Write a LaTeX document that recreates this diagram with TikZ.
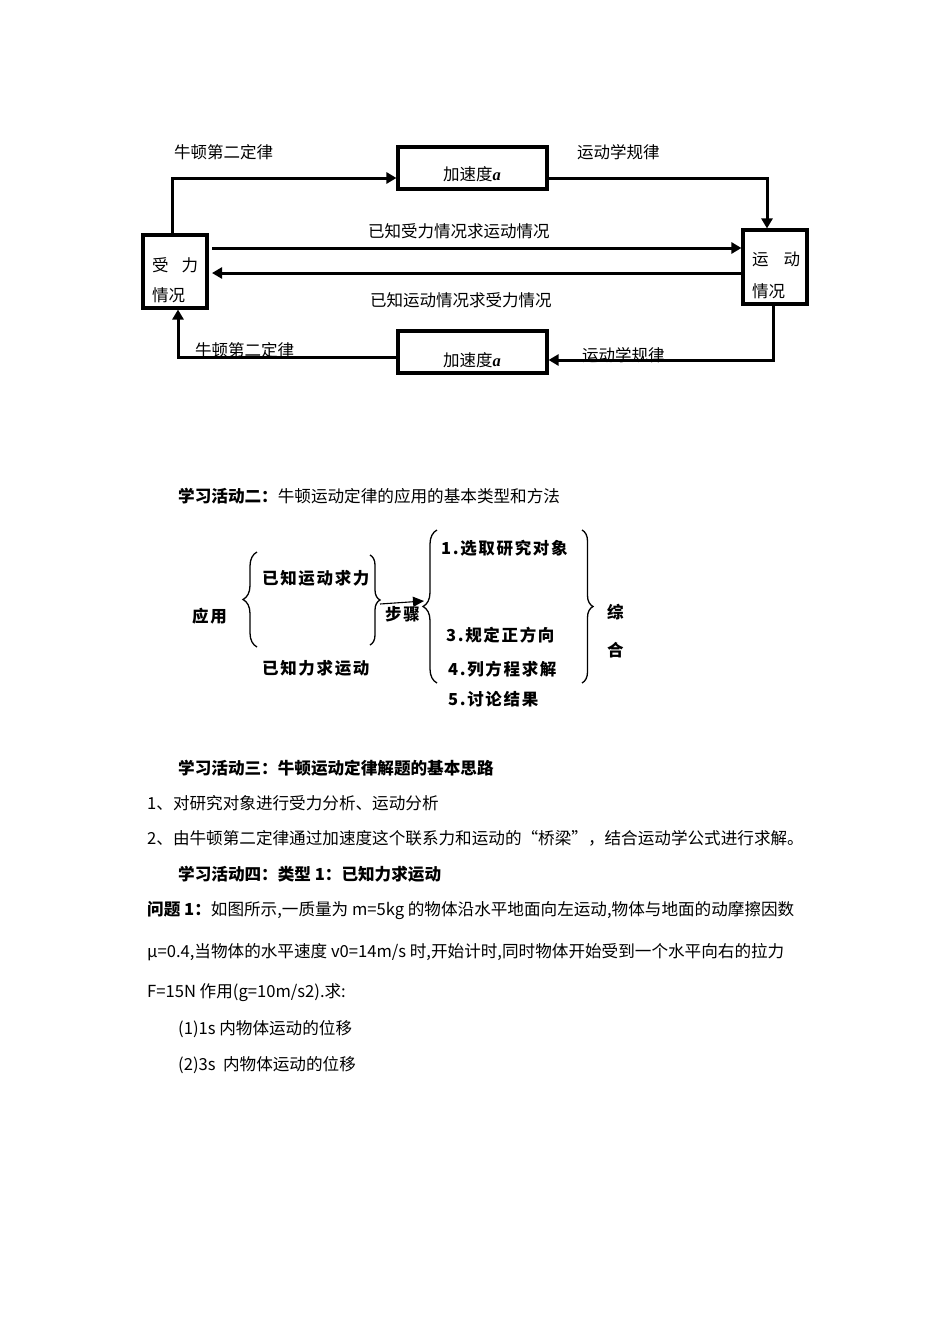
\documentclass[tikz,border=0pt]{standalone}
\usepackage{fontspec}
\setmainfont{Noto Sans CJK SC}
\newfontfamily\cjks[LetterSpace=10]{Noto Sans CJK SC}
\newfontfamily\ser{Liberation Serif}
\usetikzlibrary{arrows.meta,decorations.pathreplacing}
\begin{document}
\begin{tikzpicture}[x=1pt,y=-1pt,
  box/.style={draw, line width=3.1pt, inner sep=0pt},
  conn/.style={line width=3pt, -{Triangle[length=10pt,width=11pt]}},
  thinarr/.style={line width=1.1pt, -{Triangle[length=11pt,width=10pt]}},
  brc/.style={decorate, decoration={brace, amplitude=#1}, line width=1.3pt},
  brc/.default=12,
  lbl/.style={inner sep=0pt, anchor=west, font=\fontsize{16.5}{18}\selectfont},
  bd/.style={inner sep=0pt, anchor=west, font=\fontsize{16.5}{18}\selectfont\cjks\bfseries},
  txt/.style={inner sep=0pt, anchor=west, font=\fontsize{16.6}{18}\selectfont},
]
\fill[white] (0,0) rectangle (950,1344);
\useasboundingbox (0,0) rectangle (950,1344);

% ---------- top diagram ----------
\node[box, minimum width=64pt, minimum height=73pt] (F) at (175,271.5) {};
\node[box, minimum width=64pt, minimum height=74pt] (M) at (775,267) {};
\node[box, minimum width=149pt, minimum height=42pt] (A1) at (472.5,168) {};
\node[box, minimum width=149pt, minimum height=42pt] (A2) at (472.5,352) {};

\node[lbl] (f1) at (152,265) {受\hspace{13pt}力};
\node[lbl] (f2) at (152,295) {情况};
\node[lbl] (m1) at (752,259) {运\hspace{15pt}动};
\node[lbl] (m2) at (752,291) {情况};
\node[lbl] (a1t) at (443,174) {加速度{\ser\bfseries\itshape a}};
\node[lbl] (a2t) at (443,360) {加速度{\ser\bfseries\itshape a}};

\node[lbl] (l1) at (174,152) {牛顿第二定律};
\node[lbl] (l2) at (577,152) {运动学规律};
\node[lbl] (l3) at (368,231) {已知受力情况求运动情况};
\node[lbl] (l4) at (370,300) {已知运动情况求受力情况};
\node[lbl] (l5) at (195,350) {牛顿第二定律};
\node[lbl] (l6) at (582,355) {运动学规律};

\draw[conn] ([xshift=-3pt]F.north) |- ([yshift=-10pt]A1.west);
\draw[conn] ([yshift=-10pt]A1.east) -| ([xshift=-8pt]M.north);
\coordinate (r1) at (212,248);
\coordinate (r2) at (212,273);
\draw[conn] (r1) -- (r1 -| M.west);
\draw[conn] (r2 -| M.west) -- (r2);
\draw[conn] ([xshift=-2pt]M.south) |- ([yshift=-8pt]A2.east);
\draw[conn] ([yshift=-5pt]A2.west) -| ([xshift=3pt]F.south);

% ---------- middle diagram ----------
\node[txt] (h2) at (178,496) {\bfseries 学习活动二：\mdseries 牛顿运动定律的应用的基本类型和方法};
\node[bd] (y1) at (192,616) {应用};
\draw[brc=14] (257,647) -- (257,552);
\node[bd] (k1) at (262,578) {已知运动求力};
\node[bd] (k2) at (262,668) {已知力求运动};
\draw[brc=10] (370,555) -- (370,645);
\coordinate (s1) at (380,604);
\coordinate (s2) at (424,601);
\draw[thinarr] (s1) -- (s2);
\node[bd] (bz) at (385,614) {步骤};
\draw[brc=14] (437,683) -- (437,530);
\draw[brc=11] (582,530) -- (582,683);
\node[bd] (t1) at (441,548) {1.选取研究对象};
\node[bd] (t3) at (446,635) {3.规定正方向};
\node[bd] (t4) at (448,669) {4.列方程求解};
\node[bd] (t5) at (448,699) {5.讨论结果};
\node[bd] (z1) at (607,612) {综};
\node[bd] (z2) at (607,650) {合};

% ---------- text ----------
\node[txt] (h3) at (178,768) {\bfseries 学习活动三：牛顿运动定律解题的基本思路};
\node[txt] (p1) at (147,803) {1、对研究对象进行受力分析、运动分析};
\node[txt] (p2) at (147,838) {2、由牛顿第二定律通过加速度这个联系力和运动的“桥梁”，结合运动学公式进行求解。};
\node[txt] (h4) at (178,874) {\bfseries 学习活动四：类型 1：已知力求运动};
\node[txt] (q1) at (147,910) {\bfseries 问题 1：\mdseries 如图所示,一质量为 m=5kg 的物体沿水平地面向左运动,物体与地面的动摩擦因数};
\node[txt] (q2) at (147,952) {μ=0.4,当物体的水平速度 v0=14m/s 时,开始计时,同时物体开始受到一个水平向右的拉力};
\node[txt] (q3) at (147,993) {F=15N 作用(g=10m/s2).求:};
\node[txt] (q4) at (178,1029) {(1)1s 内物体运动的位移};
\node[txt] (q5) at (178,1065) {(2)3s\ \ 内物体运动的位移};
\end{tikzpicture}
\end{document}
